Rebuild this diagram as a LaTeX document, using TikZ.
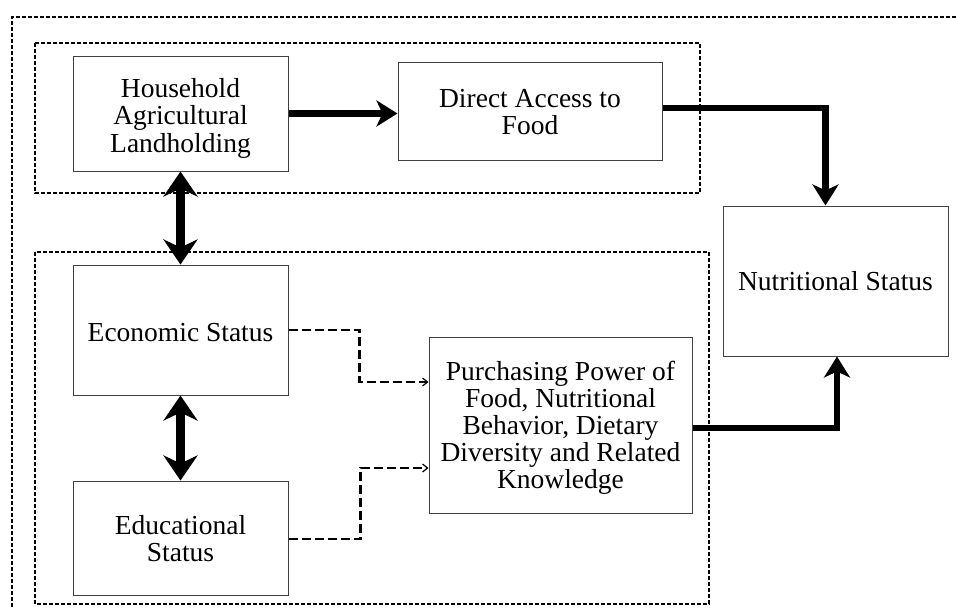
\documentclass[tikz,border=0pt]{standalone}
\usepackage{fontspec}
\setmainfont{Liberation Serif}
\usetikzlibrary{arrows.meta,positioning,calc}
\newcommand{\lowtext}[2][3pt]{\raisebox{-#1}[\height][\depth]{\begin{tabular}{@{}c@{}}#2\end{tabular}}}
\begin{document}
\begin{tikzpicture}[x=1pt,y=-1pt,
  box/.style={draw=black!75,line width=1pt,align=center,inner sep=0pt,font=\fontsize{27.5}{27}\selectfont},
  grp/.style={draw=black,line width=1.1pt,dash pattern=on 4pt off 2pt},
  thickarrow/.style={line width=6.5pt,-{Stealth[length=21pt,width=26pt,inset=6pt]}},
  dblarrow/.style={line width=9pt,{Stealth[length=25pt,width=34pt,inset=8pt]}-{Stealth[length=25pt,width=34pt,inset=8pt]}},
  dasharrow/.style={line width=2.5pt,dash pattern=on 9pt off 4pt,-{Straight Barb[length=5pt,width=8pt,line width=1.2pt]}}
]
\useasboundingbox (0,0) rectangle (956,608);
% outer dashed frame (clipped by the picture edges)
\draw[grp] (956,17) -- (12,17) -- (12,610);
% groups
\draw[grp] (35,43) rectangle (700,193);
\draw[grp] (35,252) rectangle (709,604);
% boxes
\node[box,minimum width=215pt,minimum height=115pt] (H) at (180.5,113.5) {\lowtext[6pt]{Household\\Agricultural\\Landholding}};
\node[box,minimum width=264pt,minimum height=98pt] (D) at (530,111) {\lowtext[5pt]{Direct Access to\\Food}};
\node[box,minimum width=225pt,minimum height=150pt] (N) at (835.5,281) {Nutritional Status};
\node[box,minimum width=215pt,minimum height=130pt] (E) at (180.5,330) {\lowtext[6pt]{Economic Status}};
\node[box,minimum width=215pt,minimum height=114pt] (Ed) at (180.5,538) {\lowtext[5pt]{Educational\\Status}};
\node[box,minimum width=263pt,minimum height=176pt] (P) at (560.5,425) {\lowtext[4pt]{Purchasing Power of\\Food, Nutritional\\Behavior, Dietary\\Diversity and Related\\Knowledge}};
% connectors
\draw[thickarrow] (H.east) -- (H.east -| D.west);
\draw[thickarrow] ([yshift=3pt]D.east) -| ([xshift=-10pt]N.north);
\draw[thickarrow] ([yshift=-3pt]P.east) -| ([xshift=1.5pt]N.south);
\draw[dblarrow] (H.south) -- (E.north);
\draw[dblarrow] (E.south) -- (Ed.north);
\draw[dasharrow] (E.east) -- ++(71pt,0) |- ([yshift=43pt]P.west);
\draw[dasharrow] ([yshift=-1pt]Ed.east) -- ++(72pt,0) |- ([yshift=-43pt]P.west);
\end{tikzpicture}
\end{document}
